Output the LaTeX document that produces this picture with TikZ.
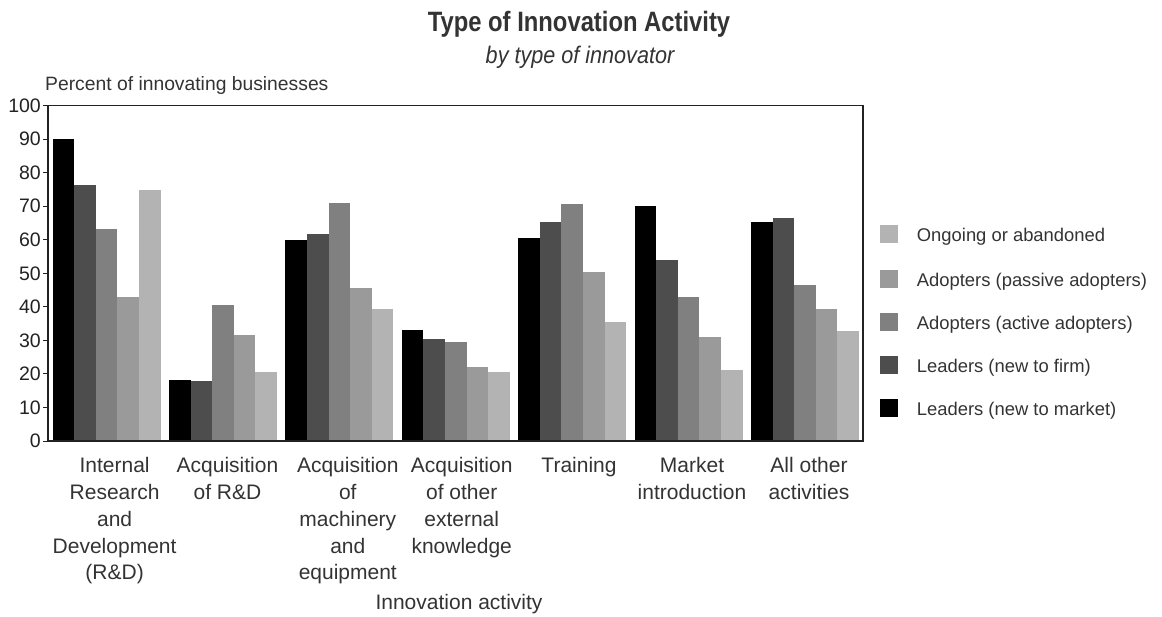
\documentclass[tikz,border=0pt]{standalone}
\usepackage{fontspec}
\usepackage{graphicx}
\setmainfont{Liberation Sans}
\definecolor{bar0}{HTML}{000000}
\definecolor{bar1}{HTML}{4D4D4D}
\definecolor{bar2}{HTML}{808080}
\definecolor{bar3}{HTML}{9A9A9A}
\definecolor{bar4}{HTML}{B3B3B3}
\definecolor{txt}{HTML}{333333}
\definecolor{tick}{HTML}{222222}
\tikzset{
  xlab/.style={anchor=north, inner sep=0pt, align=center, text=txt, font=\fontsize{21}{26.7}\selectfont},
  ylab/.style={anchor=east, inner sep=0pt, text=tick, font=\fontsize{19.5}{22}\selectfont},
  legtxt/.style={anchor=base west, inner sep=0pt, text=txt, font=\fontsize{18.4}{22}\selectfont},
  legbox/.style={minimum size=18pt, inner sep=0pt, draw=none},
  framestyle/.style={draw=tick, line width=1.6pt},
}
\begin{document}
\begin{tikzpicture}[x=1pt,y=-1pt]
\useasboundingbox (0,0) rectangle (1162,617);
% title
\node (title) [anchor=base, inner sep=0pt, text=txt, font=\fontsize{28}{32}\selectfont] at (579,31.7) {\scalebox{0.85}[1]{\bfseries Type of Innovation Activity}};
\node (subtitle) [anchor=base, inner sep=0pt, text=txt, font=\fontsize{24}{28}\selectfont] at (580,63.3) {\scalebox{0.9}[1]{\itshape by type of innovator}};
\node (ytitle) [anchor=base west, inner sep=0pt, text=txt, font=\fontsize{19.3}{22}\selectfont] at (45,90.7) {Percent of innovating businesses};
% bars
\foreach \vals [count=\i from 0] in {
  {90,76.3,63.2,42.8,74.8},
  {18.2,17.9,40.6,31.6,20.6},
  {60,61.8,71,45.6,39.4},
  {33.1,30.4,29.5,22.1,20.6},
  {60.6,65.3,70.7,50.4,35.5},
  {70,53.9,42.9,31,21.2},
  {65.3,66.5,46.5,39.4,32.8}} {
  \foreach \v [count=\j from 0] in \vals {
    \fill[bar\j] ({48+116.4*\i+4.6+21.6*\j},441) rectangle ++(21.6,{-\v*3.354});
  }
}
% frame
\draw[framestyle] (48,105.6) rectangle (862.8,441);
% ticks
\foreach \t in {0,10,...,100} {
  \draw[tick, line width=1pt] (43,{441-\t*3.354}) -- (48,{441-\t*3.354});
  \node (yt\t) [ylab] at (41,{441-\t*3.354}) {\t};
}
% x labels
\node (x1) [xlab] at (114.6,457.5) {Internal\\Research\\and\\Development\\(R\&D)};
\node (x2) [xlab] at (227.5,457.5) {Acquisition\\of R\&D};
\node (x3) [xlab] at (347.8,457.5) {Acquisition\\of\\machinery\\and\\equipment};
\node (x4) [xlab] at (461.7,457.5) {Acquisition\\of other\\external\\knowledge};
\node (x5) [xlab] at (579,457.5) {Training};
\node (x6) [xlab] at (692,457.5) {Market\\introduction};
\node (x7) [xlab] at (809,457.5) {All other\\activities};
\node (xtitle) [anchor=base, inner sep=0pt, text=txt, font=\fontsize{21}{24}\selectfont] at (459,609) {Innovation activity};
% legend
\foreach \c/\y/\name [count=\k] in {bar4/234/Ongoing or abandoned, bar3/279/Adopters (passive adopters), bar2/322.5/Adopters (active adopters), bar1/365.5/Leaders (new to firm), bar0/408.5/Leaders (new to market)} {
  \node (lb\k) [legbox, fill=\c] at (889,\y) {};
  \node (lt\k) [legtxt] at (916.7,{\y+7.5}) {\name};
}
\end{tikzpicture}
\end{document}
